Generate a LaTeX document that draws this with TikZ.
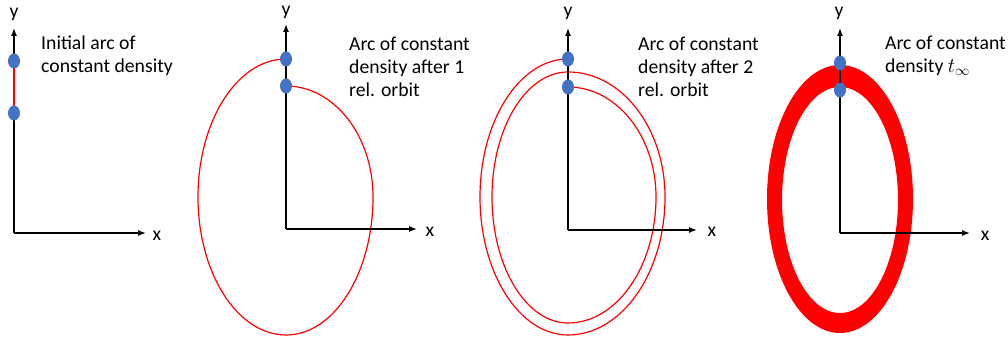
\documentclass[tikz,border=0pt]{standalone}
\usepackage{fontspec}
\setmainfont{Carlito}
\usetikzlibrary{arrows.meta,shapes.geometric}
\definecolor{dotblue}{RGB}{68,114,196}

\begin{document}
\begin{tikzpicture}[x=1pt, y=1pt, >={Latex[length=8pt,width=6pt]},
  font=\fontsize{19.7pt}{23.3pt}\selectfont,
  axis/.style={->, line width=1.4pt},
  orbit/.style={draw=red, line width=1.2pt},
  dot/.style={ellipse, fill=dotblue, inner sep=0pt, minimum width=12pt, minimum height=15pt},
  lbl/.style={align=left, inner sep=0pt, anchor=west}]
\useasboundingbox (0,0) rectangle (1008,339);
% origins, axis tips and arc ends
\coordinate (o1) at (14,106);  \coordinate (yt1) at (14,311);  \coordinate (xt1) at (146,106);
\coordinate (o2) at (286,110); \coordinate (yt2) at (286,315); \coordinate (xt2) at (417,110);
\coordinate (o3) at (568,109); \coordinate (yt3) at (568,311); \coordinate (xt3) at (697,109);
\coordinate (o4) at (840,106); \coordinate (yt4) at (840,311); \coordinate (xt4) at (970,106);
\coordinate (a1) at (14,278);  \coordinate (b1) at (14,226);
\coordinate (a2) at (286,280); \coordinate (b2) at (286,253);
\coordinate (a3) at (568,280); \coordinate (b3) at (568,252);
\coordinate (a4) at (840,276); \coordinate (b4) at (840,249);

% arcs after one and two orbits
\draw[orbit] (a2) arc[start angle=90, end angle=180, x radius=88pt, y radius=138pt]
  arc[start angle=180, end angle=270, x radius=88pt, y radius=138pt]
  arc[start angle=270, end angle=360, x radius=87pt, y radius=138pt]
  arc[start angle=0, end angle=90, x radius=87pt, y radius=111pt];
\draw[orbit] (a3) arc[start angle=90, end angle=180, x radius=88pt, y radius=138pt]
  arc[start angle=180, end angle=270, x radius=88pt, y radius=138pt]
  arc[start angle=270, end angle=360, x radius=97pt, y radius=138pt]
  arc[start angle=0, end angle=90, x radius=97pt, y radius=125pt]
  arc[start angle=90, end angle=180, x radius=76pt, y radius=125pt]
  arc[start angle=180, end angle=270, x radius=76pt, y radius=126pt]
  arc[start angle=270, end angle=360, x radius=88pt, y radius=126pt]
  arc[start angle=0, end angle=90, x radius=88pt, y radius=110pt];
\fill[red, even odd rule] (840,140) ellipse[x radius=73pt, y radius=134pt]
  (840,139) ellipse[x radius=58pt, y radius=113pt];

% axes
\foreach \i in {1,...,4} {
  \draw[axis] (o\i) -- (yt\i);
  \draw[axis] (o\i) -- (xt\i);
}
\draw[orbit] (a1) -- (b1);

% end points of the arc
\foreach \i in {1,...,4} {
  \node[dot] (pa\i) at (a\i) {};
  \node[dot] (pb\i) at (b\i) {};
}

% axis labels
\node (ly1) at (14,325) {y};  \node (lx1) at (157,103) {x};
\node (ly2) at (286,327) {y}; \node (lx2) at (430,107) {x};
\node (ly3) at (568,326) {y}; \node (lx3) at (712,107) {x};
\node (ly4) at (839,326) {y}; \node (lx4) at (985,103) {x};

% captions
\node[lbl] (c1) at (41,283.5) {Initial arc of\\constant density};
\node[lbl] (c2) at (349,272) {Arc of constant\\density after 1\\rel. orbit};
\node[lbl] (c3) at (638,272) {Arc of constant\\density after 2\\rel. orbit};
\node[lbl] (c4) at (885,283.5) {Arc of constant\\density $t_\infty$};
\end{tikzpicture}
\end{document}
